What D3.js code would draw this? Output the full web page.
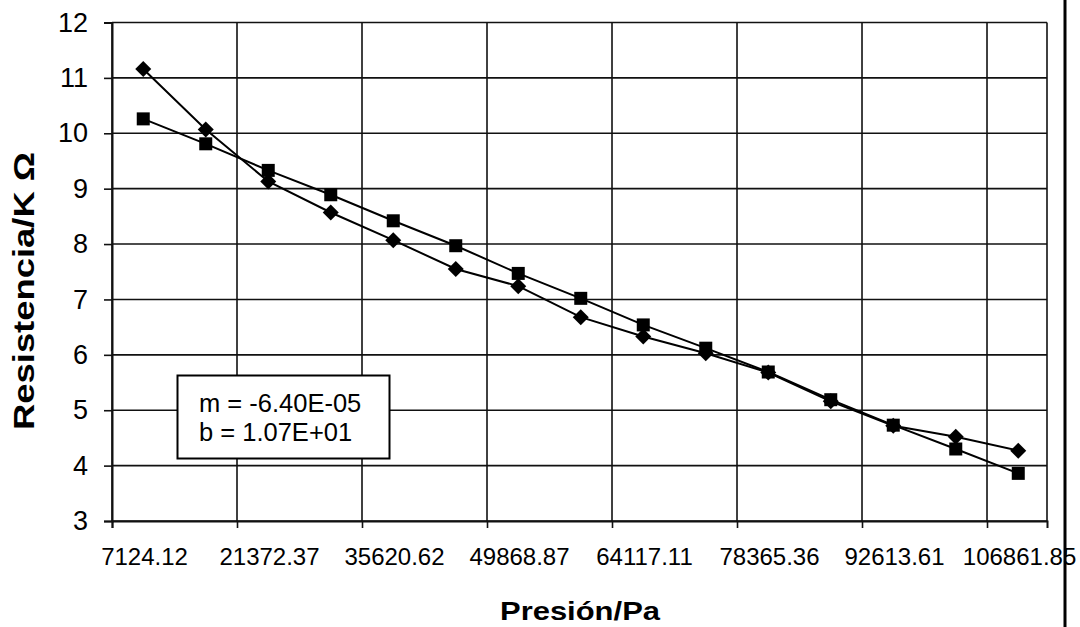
<!DOCTYPE html>
<html>
<head>
<meta charset="utf-8">
<script src="https://cdn.jsdelivr.net/npm/d3@7"></script>
<style>
  body { margin: 0; background: #fff; }
  svg { display: block; }
</style>
</head>
<body>
<script>
// tick values and labels of the pressure axis
var xTicks = [7124.12, 21372.37, 35620.62, 49868.87, 64117.11, 78365.36, 92613.61, 106861.85];
var xTickLabels = ["7124.12", "21372.37", "35620.62", "49868.87", "64117.11", "78365.36", "92613.61", "106861.85"];
var yTicks = [3, 4, 5, 6, 7, 8, 9, 10, 11, 12];

// pressure readings (Pa)
var presion = [10686, 17810, 24934, 32059, 39183, 46307, 53431, 60555, 67680, 74804, 81928, 89052, 96177, 103301, 110425];
// diamond series
var serieRombo = [11.16, 10.07, 9.13, 8.57, 8.07, 7.55, 7.24, 6.68, 6.33, 6.03, 5.68, 5.16, 4.72, 4.52, 4.27];
// square series
var serieCuadro = [10.26, 9.81, 9.33, 8.89, 8.42, 7.97, 7.47, 7.02, 6.54, 6.12, 5.69, 5.19, 4.73, 4.30, 3.86];

var ajuste = ["m = -6.40E-05", "b = 1.07E+01"];

var W = 1080, H = 627;
var margin = {top: 22.5, right: 33, bottom: 106, left: 112};

var svg = d3.select("body").append("svg")
    .attr("width", W)
    .attr("height", H);

// set the ranges
var x = d3.scaleLinear()
    .domain([7124.12, 113700])
    .range([margin.left, W - margin.right]);
var y = d3.scaleLinear()
    .domain([3, 12])
    .range([H - margin.bottom, margin.top]);

var ink = "#111";

// horizontal gridlines
svg.append("g")
  .selectAll("line")
  .data(yTicks)
  .enter().append("line")
    .attr("x1", x.range()[0])
    .attr("x2", x.range()[1])
    .attr("y1", function(d) { return y(d); })
    .attr("y2", function(d) { return y(d); })
    .attr("stroke", ink)
    .attr("stroke-width", 1.6);

// vertical gridlines
svg.append("g")
  .selectAll("line")
  .data(xTicks.concat([113700]))
  .enter().append("line")
    .attr("x1", function(d) { return x(d); })
    .attr("x2", function(d) { return x(d); })
    .attr("y1", y(12))
    .attr("y2", y(3))
    .attr("stroke", ink)
    .attr("stroke-width", 1.6);

// x axis (labels sit a bit right of their ticks, like the original)
var xAxis = svg.append("g")
    .attr("transform", "translate(0," + y(3) + ")")
    .call(d3.axisBottom(x)
      .tickValues(xTicks)
      .tickSize(7)
      .tickPadding(20)
      .tickFormat(function(d, i) { return xTickLabels[i]; }));
xAxis.select(".domain").attr("stroke", ink).attr("stroke-width", 2);
xAxis.selectAll(".tick line").attr("stroke", ink).attr("stroke-width", 1.6);
xAxis.selectAll("text")
    .attr("x", 32)
    .attr("fill", "#000")
    .style("font-family", "'Liberation Sans', Arial, sans-serif")
    .style("font-size", "24px");

// y axis
var yAxis = svg.append("g")
    .attr("transform", "translate(" + x(7124.12) + ",0)")
    .call(d3.axisLeft(y)
      .tickValues(yTicks)
      .tickSize(8)
      .tickPadding(16)
      .tickFormat(d3.format("d")));
yAxis.select(".domain").attr("stroke", ink).attr("stroke-width", 2);
yAxis.selectAll(".tick line").attr("stroke", ink).attr("stroke-width", 1.6);
yAxis.selectAll("text")
    .attr("fill", "#000")
    .style("font-family", "'Liberation Sans', Arial, sans-serif")
    .style("font-size", "27px");

// lines
var line = d3.line()
    .x(function(d) { return x(d[0]); })
    .y(function(d) { return y(d[1]); });

var rombos = d3.zip(presion, serieRombo);
var cuadros = d3.zip(presion, serieCuadro);

svg.append("path")
    .datum(cuadros)
    .attr("fill", "none")
    .attr("stroke", "#000")
    .attr("stroke-width", 2)
    .attr("d", line);
svg.append("path")
    .datum(rombos)
    .attr("fill", "none")
    .attr("stroke", "#000")
    .attr("stroke-width", 2)
    .attr("d", line);

// square markers
svg.append("g")
  .selectAll("rect")
  .data(cuadros)
  .enter().append("rect")
    .attr("x", function(d) { return x(d[0]) - 6.5; })
    .attr("y", function(d) { return y(d[1]) - 6.5; })
    .attr("width", 13)
    .attr("height", 13)
    .attr("fill", "#000");

// diamond markers
svg.append("g")
  .selectAll("path")
  .data(rombos)
  .enter().append("path")
    .attr("transform", function(d) { return "translate(" + x(d[0]) + "," + y(d[1]) + ")"; })
    .attr("d", "M0,-8L8,0L0,8L-8,0Z")
    .attr("fill", "#000");

// regression box
var box = svg.append("g");
box.append("rect")
    .attr("x", 177.5)
    .attr("y", 375.5)
    .attr("width", 212)
    .attr("height", 83)
    .attr("fill", "#fff")
    .attr("stroke", "#000")
    .attr("stroke-width", 2);
box.selectAll("text")
  .data(ajuste)
  .enter().append("text")
    .attr("x", 199)
    .attr("y", function(d, i) { return 412 + i * 29; })
    .style("font-family", "'Liberation Sans', Arial, sans-serif")
    .style("font-size", "25.5px")
    .text(function(d) { return d; });

// axis titles
svg.append("text")
    .attr("text-anchor", "middle")
    .attr("transform", "translate(580,620)")
    .attr("textLength", 160)
    .attr("lengthAdjust", "spacingAndGlyphs")
    .style("font-family", "'Liberation Sans', Arial, sans-serif")
    .style("font-weight", "bold")
    .style("font-size", "26px")
    .text("Presión/Pa");

svg.append("text")
    .attr("text-anchor", "middle")
    .attr("transform", "translate(34,291)rotate(-90)")
    .attr("textLength", 278)
    .attr("lengthAdjust", "spacingAndGlyphs")
    .style("font-family", "'Liberation Sans', Arial, sans-serif")
    .style("font-weight", "bold")
    .style("font-size", "29px")
    .text("Resistencia/K Ω");

// page border on the right of the scan
svg.append("line")
    .attr("x1", 1065).attr("x2", 1065)
    .attr("y1", 0).attr("y2", H)
    .attr("stroke", "#000")
    .attr("stroke-width", 3);
</script>
</body>
</html>
